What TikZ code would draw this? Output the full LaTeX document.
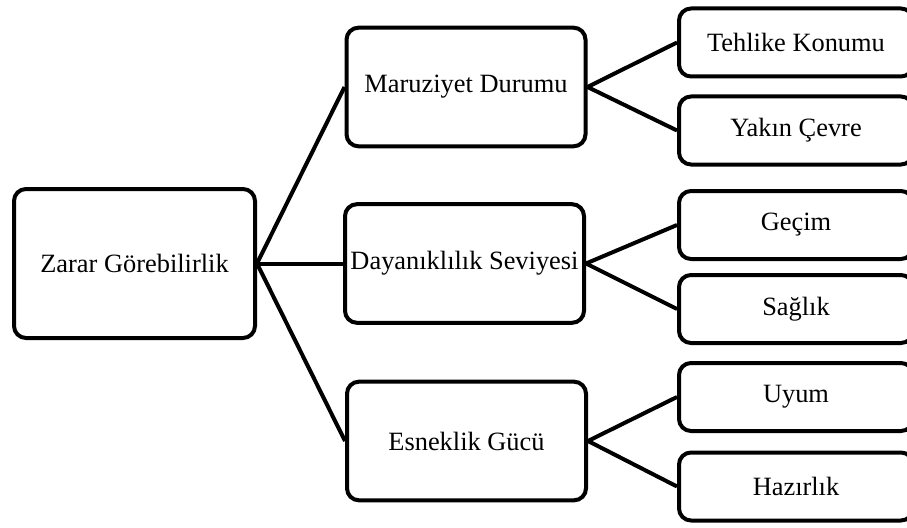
\documentclass[tikz,border=0pt]{standalone}
\usepackage{fontspec}
\setmainfont{Liberation Serif}
\begin{document}
\begin{tikzpicture}[
  x=0.75pt, y=-0.75pt,
  box/.style={draw, line width=3pt, rounded corners=9pt, align=center,
              minimum width=179.25pt, minimum height=89pt, inner sep=2pt,
              font=\fontsize{19.8pt}{24pt}\selectfont},
  leaf/.style={box, minimum width=175.5pt, minimum height=51pt},
  link/.style={line width=3pt},
]
\clip (0,0) rectangle (907,528);
\fill[white] (0,0) rectangle (907,528);

\node[box, minimum width=180.75pt, minimum height=111.75pt] (zarar) at (134.5,263.5) {Zarar Görebilirlik};

\node[box] (maruz) at (466,87)    {Maruziyet Durumu};
\node[box] (dayan) at (464.5,263.5) {Dayanıklılık Seviyesi};
\node[box] (esnek) at (466.5,441)  {Esneklik Gücü};

\node[leaf] (tehlike) at (796,42.5) {Tehlike Konumu};
\node[leaf] (yakin)   at (796,130.5) {Yakın Çevre};
\node[leaf] (gecim)   at (796,225)  {Geçim};
\node[leaf] (saglik)  at (796,309)  {Sağlık};
\node[leaf] (uyum)    at (796,397)  {Uyum};
\node[leaf] (hazir)   at (796,486.5) {Hazırlık};

\draw[link] (zarar.east) -- (maruz.west);
\draw[link] (zarar.east) -- (dayan.west);
\draw[link] (zarar.east) -- (esnek.west);

\draw[link] (maruz.east) -- (tehlike.west);
\draw[link] (maruz.east) -- (yakin.west);
\draw[link] (dayan.east) -- (gecim.west);
\draw[link] (dayan.east) -- (saglik.west);
\draw[link] (esnek.east) -- (uyum.west);
\draw[link] (esnek.east) -- (hazir.west);

\end{tikzpicture}
\end{document}
